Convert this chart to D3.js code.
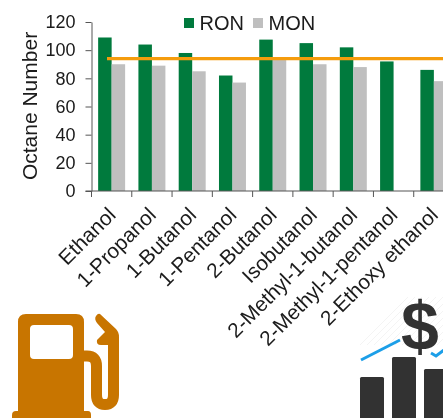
<!DOCTYPE html>
<html>
<head>
<meta charset="utf-8">
<script src="https://d3js.org/d3.v7.min.js"></script>
<style>
body { margin: 0; background: #fff; }
text { font-family: "Liberation Sans", Arial, sans-serif; fill: #1a1a1a; }
</style>
</head>
<body>
<script>
var categories = ["Ethanol", "1-Propanol", "1-Butanol", "1-Pentanol", "2-Butanol", "Isobutanol", "2-Methyl-1-butanol", "2-Methyl-1-pentanol", "2-Ethoxy ethanol"];
var ron = [109, 104, 98, 82, 107.5, 105, 102, 92, 86];
var mon = [90, 89, 85, 77, 93, 90, 88, null, 78];
var yTicks = [0, 20, 40, 60, 80, 100, 120];
var targetOctane = 94;

var width = 443, height = 418;
var svg = d3.select("body").append("svg").attr("width", width).attr("height", height).style("display", "block");

// the reference is a soft, scaled up image
svg.append("filter").attr("id", "soft").attr("x", 0).attr("y", 0).attr("width", "100%").attr("height", "100%")
	.append("feGaussianBlur").attr("stdDeviation", 0.35);
var root = svg.append("g").attr("filter", "url(#soft)");
root.append("rect").attr("width", width).attr("height", height).attr("fill", "#fff");

var x = d3.scaleBand().domain(categories).range([91.5, 454]).paddingInner(0).paddingOuter(0);
var y = d3.scaleLinear().domain([0, 120]).range([191, 22]);

var barW = x.bandwidth() * 0.335;
var barOff = x.bandwidth() * 0.165;

// bars
root.selectAll("rect.ron")
.data(categories)
.enter().append("rect")
	.attr("class", "ron")
	.attr("x", function(d) { return x(d) + barOff; })
	.attr("y", function(d, i) { return y(ron[i]); })
	.attr("width", barW)
	.attr("height", function(d, i) { return y(0) - y(ron[i]); })
	.attr("fill", "#007a3d");

root.selectAll("rect.mon")
.data(categories.filter(function(d, i) { return mon[i] !== null; }))
.enter().append("rect")
	.attr("class", "mon")
	.attr("x", function(d) { return x(d) + barOff + barW; })
	.attr("y", function(d) { return y(mon[categories.indexOf(d)]); })
	.attr("width", barW)
	.attr("height", function(d) { return y(0) - y(mon[categories.indexOf(d)]); })
	.attr("fill", "#bfbfbf");

// y axis
var yAxis = root.append("g")
	.attr("transform", "translate(91.5,0)")
	.call(d3.axisLeft(y).tickValues(yTicks).tickSize(6).tickPadding(10).tickSizeOuter(0));
yAxis.select(".domain").attr("stroke", "#555");
yAxis.selectAll("line").attr("stroke", "#555");
yAxis.selectAll("text").attr("font-size", 18).attr("fill", "#1a1a1a");

// x axis
var xAxis = root.append("g").attr("transform", "translate(0,191)");
xAxis.append("line").attr("x1", 85.5).attr("x2", 454).attr("stroke", "#555");
xAxis.selectAll("line.tick")
.data(categories.concat(["end"]))
.enter().append("line")
	.attr("class", "tick")
	.attr("x1", function(d, i) { return 91.5 + i * x.step(); })
	.attr("x2", function(d, i) { return 91.5 + i * x.step(); })
	.attr("y1", 0)
	.attr("y2", 6)
	.attr("stroke", "#555");

xAxis.selectAll("text")
.data(categories)
.enter().append("text")
	.attr("text-anchor", "end")
	.attr("font-size", 20.8)
	.attr("transform", function(d) { return "translate(" + (x(d) + x.bandwidth() / 2 - 5) + ",15) rotate(-45)"; })
	.attr("dy", "0.7em")
	.text(function(d) { return d; });

root.append("text")
	.attr("transform", "translate(36.5,106) rotate(-90)")
	.attr("text-anchor", "middle")
	.attr("font-size", 21)
	.text("Octane Number");

// target line
root.append("line")
	.attr("x1", 107)
	.attr("x2", width)
	.attr("y1", y(targetOctane))
	.attr("y2", y(targetOctane))
	.attr("stroke", "#f59c0c")
	.attr("stroke-width", 3.4);

// legend
var legend = [["RON", "#007a3d", 184], ["MON", "#bfbfbf", 253]];
legend.forEach(function(l) {
	root.append("rect").attr("x", l[2]).attr("y", 18).attr("width", 10).attr("height", 10).attr("fill", l[1]);
	root.append("text").attr("x", l[2] + 15.5).attr("y", 29.5).attr("font-size", 20).text(l[0]);
});

// fuel pump icon
var pump = root.append("g").attr("fill", "#c87400");
pump.append("path").attr("fill-rule", "evenodd")
	.attr("d", "M26 314H76Q84 314 84 322V411H88Q91 411 91 415V418H12V415Q12 411 16 411H18V322Q18 314 26 314Z M34 325Q30 325 30 329V355Q30 359 34 359H69Q73 359 73 355V329Q73 325 69 325Z");
pump.append("path")
	.attr("fill", "none")
	.attr("stroke", "#c87400")
	.attr("stroke-width", 11)
	.attr("d", "M84 356H87Q96.5 356 96.5 366V395Q96.5 404.5 105 404.5Q113.5 404.5 113.5 395V340");
pump.append("path").attr("d", "M100 314L116 329Q119 332 119 337V350H108V345H101Q96 345 97 340L105 332L97 323Q94 319 96 316Q98 313 100 314Z");

// money icon
var money = root.append("g");
d3.range(0, 17).forEach(function(i) {
	money.append("line")
		.attr("x1", 360 + i * 7).attr("y1", 345)
		.attr("x2", 360 + i * 7 + 48).attr("y2", 297)
		.attr("stroke", "#f4f4f4").attr("stroke-width", 1);
});
money.append("path").attr("fill", "none").attr("stroke", "#1e9fe8").attr("stroke-width", 3)
	.attr("d", "M361 360L400 340M431 353L436 356L444 350");
[[360, 377, 24], [392, 357, 24], [424, 369, 24]].forEach(function(b) {
	money.append("rect").attr("x", b[0]).attr("y", b[1]).attr("width", b[2]).attr("height", 418 - b[1] + 3).attr("rx", 1.5).attr("fill", "#333");
});
money.append("text").attr("x", 420).attr("y", 350).attr("text-anchor", "middle")
	.attr("font-size", 68).attr("font-weight", "bold").style("fill", "#333").text("$");
</script>
</body>
</html>
